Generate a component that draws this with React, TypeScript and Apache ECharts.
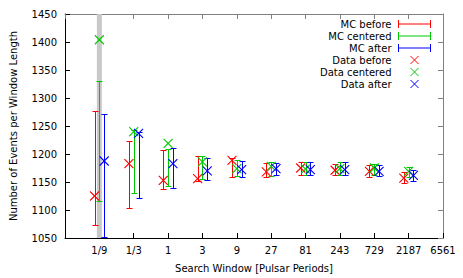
import React, { useEffect, useRef } from "react";
import * as echarts from "echarts";

// x positions are powers of 3 (exponent), labels for exponents -3..8
const tickLabels = ["", "1/9", "1/3", "1", "3", "9", "27", "81", "243", "729", "2187", "6561"];
const windowExponents = [-2, -1, 0, 1, 2, 3, 4, 5, 6, 7];

// MC error bars: mean and half-width
const mcBeforeMean = [1174.5, 1164, 1172.5, 1174, 1175.5, 1172, 1174, 1172, 1170, 1158];
const mcBeforeErr = [101.5, 60, 35.5, 22, 16.5, 12.7, 11, 10, 10.5, 9];
const mcCenteredMean = [1223, 1187, 1176, 1175.5, 1175.5, 1173, 1174, 1174, 1172.5, 1168];
const mcCenteredErr = [107, 56, 33, 20.5, 14.5, 12, 11, 11, 10.5, 9];
const mcAfterMean = [1161.5, 1181, 1175.5, 1173, 1173, 1173, 1174, 1174, 1170.5, 1161.5];
const mcAfterErr = [109.5, 59, 36, 20, 14.5, 11, 11, 11, 9.5, 9.5];

// Data points
const dataBefore = [1125, 1183, 1153, 1156, 1188.5, 1168, 1175, 1171, 1169, 1157];
const dataCentered = [1404, 1240, 1219, 1186, 1174, 1178, 1173, 1174, 1175, 1169];
const dataAfter = [1187.5, 1237, 1183, 1170, 1172, 1174, 1172, 1172, 1169, 1162];

const highlightExponent = -2;

const RED = "#ff0000";
const GREEN = "#00c800";
const BLUE = "#0000ff";
const FONT = "DejaVu Sans";

const OFFSET = 0.14;

function errorBarSeries(name: string, means: number[], errs: number[], off: number, color: string) {
  return {
    name,
    type: "custom",
    z: 3,
    itemStyle: { color },
    data: windowExponents.map((e, i) => [e + off, means[i], errs[i]]),
    renderItem: (params: any, api: any) => {
      const x = api.value(0);
      const m = api.value(1);
      const err = api.value(2);
      const top = api.coord([x, m + err]);
      const bot = api.coord([x, m - err]);
      const px = Math.round(top[0]) + 0.5;
      const ty = Math.round(top[1]) + 0.5;
      const by = Math.round(bot[1]) + 0.5;
      const st = { stroke: color, lineWidth: 1, fill: null };
      return {
        type: "group",
        children: [
          { type: "line", shape: { x1: px, y1: ty, x2: px, y2: by }, style: st },
          { type: "line", shape: { x1: px - 3, y1: ty, x2: px + 3, y2: ty }, style: st },
          { type: "line", shape: { x1: px - 3, y1: by, x2: px + 3, y2: by }, style: st },
        ],
      };
    },
  };
}

function pointSeries(name: string, vals: number[], off: number, color: string) {
  return {
    name,
    type: "custom",
    z: 4,
    itemStyle: { color },
    data: windowExponents.map((e, i) => [e + off, vals[i]]),
    renderItem: (params: any, api: any) => {
      const p = api.coord([api.value(0), api.value(1)]);
      const h = 4.5;
      const st = { stroke: color, lineWidth: 1.1, fill: null };
      return {
        type: "group",
        children: [
          { type: "line", shape: { x1: p[0] - h, y1: p[1] - h, x2: p[0] + h, y2: p[1] + h }, style: st },
          { type: "line", shape: { x1: p[0] - h, y1: p[1] + h, x2: p[0] + h, y2: p[1] - h }, style: st },
        ],
      };
    },
  };
}

const barIcon = "path://M0,0L0,8M0,4L32,4M32,0L32,8";
const xIcon = "path://M0,0L8,8M8,0L0,8";

export default function App() {
  const ref = useRef<HTMLDivElement>(null);
  useEffect(() => {
    if (!ref.current) return;
    const chart = echarts.init(ref.current, null, { renderer: "svg" });
    const axisCommon = {
      type: "value",
      splitLine: { show: false },
    };
    chart.setOption({
      animation: false,
      textStyle: { fontFamily: FONT },
      grid: { left: 62, right: 20, top: 14, bottom: 38, containLabel: false },
      legend: {
        right: 32,
        top: 18,
        padding: 0,
        orient: "vertical",
        align: "right",
        itemWidth: 32,
        itemHeight: 8,
        itemGap: 0,
        selectedMode: false,
        textStyle: { fontFamily: FONT, fontSize: 10, color: "#000", lineHeight: 12, padding: [0, 2, 0, 0] },
        data: [
          { name: "MC before", icon: barIcon, itemStyle: { color: "transparent", borderColor: RED, borderWidth: 1 } },
          { name: "MC centered", icon: barIcon, itemStyle: { color: "transparent", borderColor: GREEN, borderWidth: 1 } },
          { name: "MC after", icon: barIcon, itemStyle: { color: "transparent", borderColor: BLUE, borderWidth: 1 } },
          { name: "Data before", icon: xIcon, itemStyle: { color: "transparent", borderColor: RED, borderWidth: 1 } },
          { name: "Data centered", icon: xIcon, itemStyle: { color: "transparent", borderColor: GREEN, borderWidth: 1 } },
          { name: "Data after", icon: xIcon, itemStyle: { color: "transparent", borderColor: BLUE, borderWidth: 1 } },
        ],
      },
      xAxis: [
        {
          ...axisCommon,
          min: -3,
          max: 8,
          interval: 1,
          name: "Search Window [Pulsar Periods]",
          nameLocation: "middle",
          nameGap: 25,
          nameTextStyle: { fontFamily: FONT, fontSize: 10, color: "#000" },
          axisLine: { onZero: false, lineStyle: { color: "#000", width: 1 } },
          axisTick: { inside: true, length: 5, lineStyle: { color: "#000" } },
          axisLabel: {
            fontFamily: FONT,
            fontSize: 10,
            color: "#000",
            margin: 7,
            formatter: (v: number) => tickLabels[Math.round(v) + 3] ?? "",
          },
        },
        {
          ...axisCommon,
          position: "top",
          min: -3,
          max: 8,
          interval: 1,
          axisLine: { onZero: false, lineStyle: { color: "#808080", width: 1 } },
          axisTick: { inside: true, length: 5, lineStyle: { color: "#808080" } },
          axisLabel: { show: false },
        },
      ],
      yAxis: [
        {
          ...axisCommon,
          min: 1050,
          max: 1450,
          interval: 50,
          name: "Number of Events per Window Length",
          nameLocation: "middle",
          nameGap: 47,
          nameTextStyle: { fontFamily: FONT, fontSize: 10, color: "#000" },
          axisLine: { show: true, onZero: false, lineStyle: { color: "#000", width: 1 } },
          axisTick: { show: true, inside: true, length: 5, lineStyle: { color: "#000" } },
          axisLabel: { fontFamily: FONT, fontSize: 10, color: "#000", margin: 8, formatter: (v: number) => String(v) },
        },
        {
          ...axisCommon,
          position: "right",
          min: 1050,
          max: 1450,
          interval: 50,
          axisLine: { show: true, onZero: false, lineStyle: { color: "#808080", width: 1 } },
          axisTick: { show: true, inside: true, length: 5, lineStyle: { color: "#808080" } },
          axisLabel: { show: false },
        },
      ],
      series: [
        {
          name: "band",
          type: "custom",
          z: 1,
          silent: true,
          data: [[highlightExponent]],
          renderItem: (params: any, api: any) => {
            const t = api.coord([api.value(0), 1450]);
            const b = api.coord([api.value(0), 1050]);
            return {
              type: "rect",
              shape: { x: t[0] - 2.5, y: t[1], width: 5, height: b[1] - t[1] },
              style: { fill: "#c8c8c8" },
            };
          },
        },
        errorBarSeries("MC before", mcBeforeMean, mcBeforeErr, -OFFSET, RED),
        errorBarSeries("MC centered", mcCenteredMean, mcCenteredErr, 0, GREEN),
        errorBarSeries("MC after", mcAfterMean, mcAfterErr, OFFSET, BLUE),
        pointSeries("Data before", dataBefore, -OFFSET, RED),
        pointSeries("Data centered", dataCentered, 0, GREEN),
        pointSeries("Data after", dataAfter, OFFSET, BLUE),
      ],
    });
    return () => chart.dispose();
  }, []);
  return <div ref={ref} style={{ width: 463, height: 278, position: "absolute", left: 0, top: 0 }} />;
}
